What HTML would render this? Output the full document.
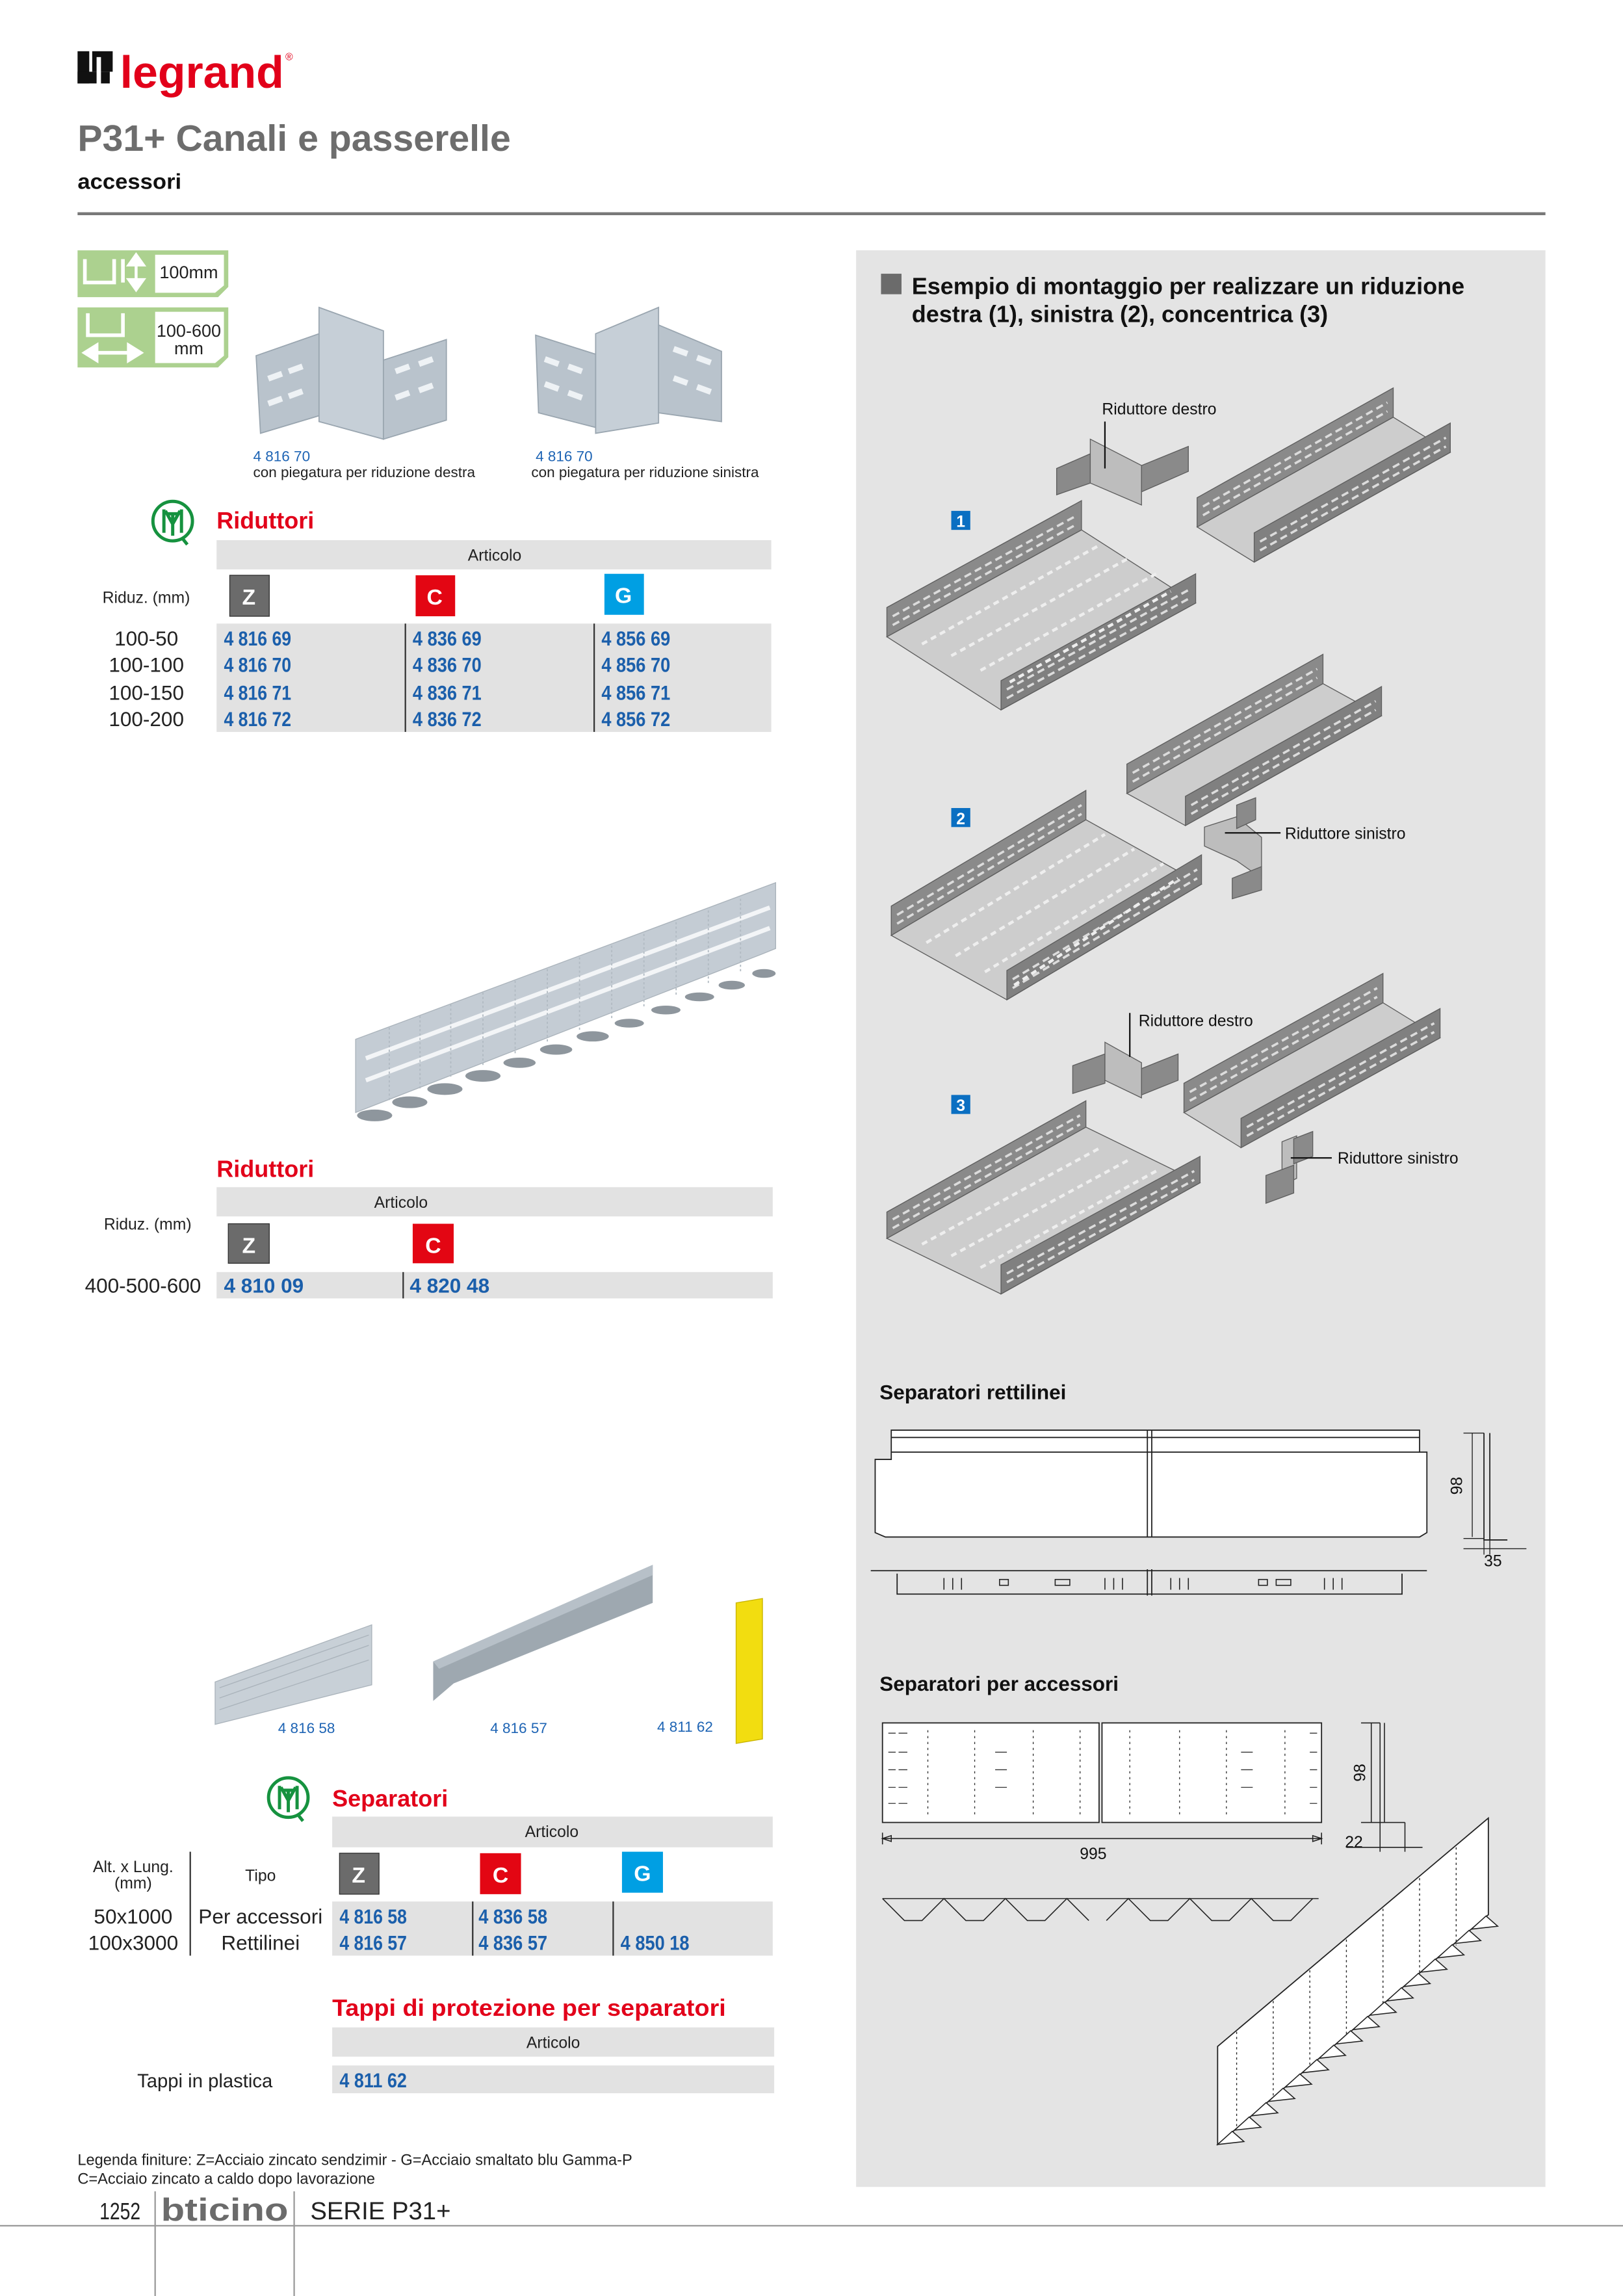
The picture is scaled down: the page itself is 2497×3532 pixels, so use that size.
<!DOCTYPE html>
<html><head><meta charset="utf-8"><style>html,body{margin:0;padding:0;background:#fff}svg{display:block}</style></head><body>
<svg xmlns="http://www.w3.org/2000/svg" width="2497" height="3532" viewBox="0 0 1109 1568.5" preserveAspectRatio="none" font-family="Liberation Sans, sans-serif">
<rect width="1109" height="1569" fill="#fff"/>
<!-- header -->
<rect x="53" y="35" width="8" height="22" fill="#111"/><rect x="53" y="49" width="22" height="8" fill="#111"/><rect x="63" y="35" width="14" height="14" fill="#111"/><rect x="66" y="39" width="3" height="20" fill="#fff"/>
<text x="82" y="60" font-size="31" font-weight="bold" fill="#e2001a" textLength="112" lengthAdjust="spacingAndGlyphs">legrand</text>
<text x="195" y="41" font-size="7" fill="#e2001a">®</text>
<text x="53" y="103" font-size="25" font-weight="bold" fill="#6d6d6d" textLength="296" lengthAdjust="spacingAndGlyphs">P31+  Canali e passerelle</text>
<text x="53" y="129" font-size="15" font-weight="bold" fill="#111" textLength="71" lengthAdjust="spacingAndGlyphs">accessori</text>
<rect x="53" y="145" width="1003" height="2" fill="#777"/>
<!-- right panel -->
<rect x="585" y="171" width="471" height="1323" fill="#e4e4e4"/>
<!-- green icons -->
<path d="M53 171 H156 V196 L149 203 H53 Z" fill="#acd18f"/><path d="M106 174 H153 V195 L147 200 H106 Z" fill="#fff"/>
<path d="M58 177 V193 H78 V177 M84 177 V193" stroke="#fff" stroke-width="2.5" fill="none"/><path d="M93 174 L88 181 H98 Z M93 198 L88 191 H98 Z M93 180 V192" stroke="#fff" fill="#fff" stroke-width="2"/>
<text x="109" y="190" font-size="12" fill="#222">100mm</text>
<path d="M53 210 H156 V244 L149 251 H53 Z" fill="#acd18f"/><path d="M106 213 H153 V243 L147 248 H106 Z" fill="#fff"/>
<path d="M60 214 V229 H84 V214" stroke="#fff" stroke-width="2.5" fill="none"/><path d="M62 241 H92 M58 241 L66 236 V246 Z M96 241 L88 236 V246 Z" stroke="#fff" fill="#fff" stroke-width="2.5"/>
<text x="129" y="230" font-size="12" fill="#222" text-anchor="middle">100-600</text><text x="129" y="242" font-size="12" fill="#222" text-anchor="middle">mm</text>
<!-- reducer photos -->
<g fill="#b9c3cc" stroke="#9aa6b0" stroke-width="0.8">
<path d="M175 243 L218 228 V284 L178 296 Z"/><path d="M218 210 L262 226 V300 L218 288 Z" fill="#c6cfd7"/><path d="M262 246 L305 232 V287 L262 300 Z"/>
<path d="M366 229 L407 242 V292 L368 282 Z"/><path d="M407 228 L450 210 V289 L407 296 Z" fill="#c6cfd7"/><path d="M450 222 L493 240 V288 L450 282 Z"/>
</g>
<g fill="#eef2f5"><rect x="183" y="255" width="10" height="4" transform="rotate(-20 188 257)"/><rect x="197" y="250" width="10" height="4" transform="rotate(-20 202 252)"/><rect x="183" y="272" width="10" height="4" transform="rotate(-20 188 274)"/><rect x="197" y="267" width="10" height="4" transform="rotate(-20 202 269)"/><rect x="270" y="250" width="10" height="4" transform="rotate(-20 275 252)"/><rect x="286" y="245" width="10" height="4" transform="rotate(-20 291 247)"/><rect x="270" y="268" width="10" height="4" transform="rotate(-20 275 270)"/><rect x="286" y="263" width="10" height="4" transform="rotate(-20 291 265)"/>
<rect x="372" y="245" width="10" height="4" transform="rotate(20 377 247)"/><rect x="388" y="250" width="10" height="4" transform="rotate(20 393 252)"/><rect x="372" y="262" width="10" height="4" transform="rotate(20 377 264)"/><rect x="388" y="268" width="10" height="4" transform="rotate(20 393 270)"/><rect x="460" y="238" width="10" height="4" transform="rotate(20 465 240)"/><rect x="476" y="244" width="10" height="4" transform="rotate(20 481 246)"/><rect x="460" y="258" width="10" height="4" transform="rotate(20 465 260)"/><rect x="476" y="264" width="10" height="4" transform="rotate(20 481 266)"/></g>
<text x="173" y="315" font-size="10" fill="#1e64b4">4 816 70</text><text x="173" y="326" font-size="10" fill="#222">con piegatura per riduzione destra</text>
<text x="366" y="315" font-size="10" fill="#1e64b4">4 816 70</text><text x="363" y="326" font-size="10" fill="#222">con piegatura per riduzione sinistra</text>
<!-- IMQ logo 1 -->
<g stroke="#16923f" fill="none" stroke-width="2.2"><circle cx="118" cy="356" r="13.5"/><path d="M112 348 V364 M124 348 V364 M113 349 L118 358 L123 349 M118 350 V366 M114 351 H122 M124 367 L128 372"/></g>
<text x="148" y="361" font-size="16" font-weight="bold" fill="#e2001a">Riduttori</text>
<rect x="148" y="369" width="379" height="20" fill="#e2e2e2"/><text x="338" y="383" font-size="11" fill="#222" text-anchor="middle">Articolo</text>
<text x="70" y="412" font-size="11" fill="#222">Riduz. (mm)</text>
<rect x="157" y="393" width="27" height="28" fill="#6b6b6b" stroke="#333" stroke-width="0.6"/><text x="170" y="413" font-size="15" font-weight="bold" fill="#fff" text-anchor="middle">Z</text>
<rect x="284" y="393" width="27" height="28" fill="#e30613"/><text x="297" y="413" font-size="15" font-weight="bold" fill="#fff" text-anchor="middle">C</text>
<rect x="413" y="392" width="27" height="28" fill="#009fe3"/><text x="426" y="412" font-size="15" font-weight="bold" fill="#fff" text-anchor="middle">G</text>
<rect x="148" y="426" width="379" height="74" fill="#e2e2e2"/><rect x="276.5" y="426" width="1" height="74" fill="#333"/><rect x="405.5" y="426" width="1" height="74" fill="#333"/>
<g font-size="14" fill="#222" text-anchor="middle"><text x="100" y="441">100-50</text><text x="100" y="459">100-100</text><text x="100" y="478">100-150</text><text x="100" y="496">100-200</text></g>
<g font-size="14" font-weight="bold" fill="#1b5fab"><text x="153" y="441" textLength="46" lengthAdjust="spacingAndGlyphs">4 816 69</text><text x="153" y="459" textLength="46" lengthAdjust="spacingAndGlyphs">4 816 70</text><text x="153" y="478" textLength="46" lengthAdjust="spacingAndGlyphs">4 816 71</text><text x="153" y="496" textLength="46" lengthAdjust="spacingAndGlyphs">4 816 72</text>
<text x="282" y="441" textLength="47" lengthAdjust="spacingAndGlyphs">4 836 69</text><text x="282" y="459" textLength="47" lengthAdjust="spacingAndGlyphs">4 836 70</text><text x="282" y="478" textLength="47" lengthAdjust="spacingAndGlyphs">4 836 71</text><text x="282" y="496" textLength="47" lengthAdjust="spacingAndGlyphs">4 836 72</text>
<text x="411" y="441" textLength="47" lengthAdjust="spacingAndGlyphs">4 856 69</text><text x="411" y="459" textLength="47" lengthAdjust="spacingAndGlyphs">4 856 70</text><text x="411" y="478" textLength="47" lengthAdjust="spacingAndGlyphs">4 856 71</text><text x="411" y="496" textLength="47" lengthAdjust="spacingAndGlyphs">4 856 72</text></g>
<!-- long reducer photo -->
<path d="M243 710 L530 603 V648 L520 652 L243 760 Z" fill="#c4ccd4" stroke="#aab3bb" stroke-width="0.6"/>
<g stroke="#f3f5f7" stroke-width="3"><path d="M250 723 L526 620"/><path d="M250 738 L526 634"/></g>
<g stroke="#b1bac2" stroke-width="0.8" stroke-dasharray="1.5 1.5"><path d="M266 702 V752 M287 694 V745 M308 686 V737 M330 678 V729 M352 670 V721 M374 662 V713 M396 654 V705 M418 646 V697 M440 638 V689 M462 630 V681 M484 622 V673 M506 614 V665"/></g>
<g fill="#8e969d"><ellipse cx="256" cy="762" rx="12" ry="4"/><ellipse cx="280" cy="753" rx="12" ry="4"/><ellipse cx="304" cy="744" rx="12" ry="4"/><ellipse cx="330" cy="735" rx="12" ry="4"/><ellipse cx="355" cy="726" rx="11" ry="3.5"/><ellipse cx="380" cy="717" rx="11" ry="3.5"/><ellipse cx="405" cy="708" rx="11" ry="3.5"/><ellipse cx="430" cy="699" rx="10" ry="3"/><ellipse cx="455" cy="690" rx="10" ry="3"/><ellipse cx="478" cy="681" rx="10" ry="3"/><ellipse cx="500" cy="673" rx="9" ry="3"/><ellipse cx="522" cy="665" rx="8" ry="3"/></g>
<!-- Riduttori 2 -->
<text x="148" y="804" font-size="16" font-weight="bold" fill="#e2001a">Riduttori</text>
<rect x="148" y="811" width="380" height="20" fill="#e2e2e2"/><text x="274" y="825" font-size="11" fill="#222" text-anchor="middle">Articolo</text>
<text x="71" y="840" font-size="11" fill="#222">Riduz. (mm)</text>
<rect x="156" y="836" width="28" height="27" fill="#6b6b6b" stroke="#333" stroke-width="0.6"/><text x="170" y="856" font-size="15" font-weight="bold" fill="#fff" text-anchor="middle">Z</text>
<rect x="282" y="836" width="28" height="27" fill="#e30613"/><text x="296" y="856" font-size="15" font-weight="bold" fill="#fff" text-anchor="middle">C</text>
<rect x="148" y="869" width="380" height="18" fill="#e2e2e2"/><rect x="275" y="869" width="1" height="18" fill="#333"/>
<text x="58" y="883" font-size="14" fill="#222">400-500-600</text>
<text x="153" y="883" font-size="14" font-weight="bold" fill="#1b5fab">4 810 09</text><text x="280" y="883" font-size="14" font-weight="bold" fill="#1b5fab">4 820 48</text>
<!-- separator photos -->
<path d="M147 1149 L254 1110 V1151 L147 1178 Z" fill="#c8d0d7" stroke="#aab3bb" stroke-width="0.6"/>
<g stroke="#aab3bb" stroke-width="0.6"><path d="M150 1160 L252 1124 M150 1168 L252 1134 M150 1153 L252 1117"/></g>
<path d="M296 1135 L446 1069 V1095 L310 1150 L296 1162 Z" fill="#9ea8b0"/><path d="M296 1135 L446 1069 L446 1076 L300 1140 Z" fill="#b7c0c8"/>
<path d="M503 1095 L521 1092 V1188 L503 1191 Z" fill="#f2dd10" stroke="#c9b400" stroke-width="0.6"/>
<g font-size="10" fill="#1e64b4"><text x="190" y="1184">4 816 58</text><text x="335" y="1184">4 816 57</text><text x="449" y="1183">4 811 62</text></g>
<!-- IMQ logo 2 -->
<g stroke="#16923f" fill="none" stroke-width="2.2"><circle cx="197" cy="1228" r="13.5"/><path d="M191 1220 V1236 M203 1220 V1236 M192 1221 L197 1230 L202 1221 M197 1222 V1238 M193 1223 H201 M203 1239 L207 1244"/></g>
<text x="227" y="1234" font-size="16" font-weight="bold" fill="#e2001a">Separatori</text>
<rect x="227" y="1241" width="301" height="21" fill="#e2e2e2"/><text x="377" y="1255" font-size="11" fill="#222" text-anchor="middle">Articolo</text>
<text x="91" y="1279" font-size="11" fill="#222" text-anchor="middle">Alt. x Lung.</text><text x="91" y="1290" font-size="11" fill="#222" text-anchor="middle">(mm)</text>
<text x="178" y="1285" font-size="11" fill="#222" text-anchor="middle">Tipo</text>
<rect x="129.5" y="1265" width="1" height="71" fill="#333"/>
<rect x="232" y="1266" width="27" height="28" fill="#6b6b6b" stroke="#333" stroke-width="0.6"/><text x="245" y="1286" font-size="15" font-weight="bold" fill="#fff" text-anchor="middle">Z</text>
<rect x="328" y="1266" width="28" height="28" fill="#e30613"/><text x="342" y="1286" font-size="15" font-weight="bold" fill="#fff" text-anchor="middle">C</text>
<rect x="425" y="1265" width="28" height="28" fill="#009fe3"/><text x="439" y="1285" font-size="15" font-weight="bold" fill="#fff" text-anchor="middle">G</text>
<rect x="227" y="1299" width="301" height="37" fill="#e2e2e2"/><rect x="322.5" y="1299" width="1" height="37" fill="#333"/><rect x="418.5" y="1299" width="1" height="37" fill="#333"/>
<g font-size="14" fill="#222" text-anchor="middle"><text x="91" y="1314">50x1000</text><text x="91" y="1332">100x3000</text><text x="178" y="1314">Per accessori</text><text x="178" y="1332">Rettilinei</text></g>
<g font-size="14" font-weight="bold" fill="#1b5fab"><text x="232" y="1314" textLength="46" lengthAdjust="spacingAndGlyphs">4 816 58</text><text x="232" y="1332" textLength="46" lengthAdjust="spacingAndGlyphs">4 816 57</text><text x="327" y="1314" textLength="47" lengthAdjust="spacingAndGlyphs">4 836 58</text><text x="327" y="1332" textLength="47" lengthAdjust="spacingAndGlyphs">4 836 57</text><text x="424" y="1332" textLength="47" lengthAdjust="spacingAndGlyphs">4 850 18</text></g>
<text x="227" y="1377" font-size="16" font-weight="bold" fill="#e2001a" textLength="269" lengthAdjust="spacingAndGlyphs">Tappi di protezione per separatori</text>
<rect x="227" y="1385" width="302" height="20" fill="#e2e2e2"/><text x="378" y="1399" font-size="11" fill="#222" text-anchor="middle">Articolo</text>
<rect x="227" y="1411" width="302" height="19" fill="#e2e2e2"/>
<text x="140" y="1426" font-size="13" fill="#222" text-anchor="middle">Tappi in plastica</text>
<text x="232" y="1426" font-size="14" font-weight="bold" fill="#1b5fab" textLength="46" lengthAdjust="spacingAndGlyphs">4 811 62</text>
<!-- legend/footer -->
<text x="53" y="1479" font-size="10.5" fill="#222">Legenda finiture: Z=Acciaio zincato sendzimir - G=Acciaio smaltato blu Gamma-P</text>
<text x="53" y="1492" font-size="10.5" fill="#222">C=Acciaio zincato a caldo dopo lavorazione</text>
<text x="68" y="1516" font-size="16" fill="#222" textLength="28" lengthAdjust="spacingAndGlyphs">1252</text>
<rect x="105.5" y="1497" width="1" height="72" fill="#999"/><rect x="200.5" y="1497" width="1" height="72" fill="#999"/><rect x="0" y="1520" width="1109" height="1" fill="#999"/>
<text x="110" y="1517" font-size="22" font-weight="bold" fill="#6b6b6b" textLength="87" lengthAdjust="spacingAndGlyphs">bticino</text>
<text x="212" y="1516" font-size="17" fill="#222" textLength="96" lengthAdjust="spacingAndGlyphs">SERIE P31+</text>
<!-- right panel content -->
<rect x="602" y="187" width="14" height="14" fill="#6b6b6b"/>
<text x="623" y="201" font-size="16" font-weight="bold" fill="#111">Esempio di montaggio per realizzare un riduzione</text>
<text x="623" y="220" font-size="16" font-weight="bold" fill="#111">destra (1), sinistra (2), concentrica (3)</text>
<!-- trays -->
<g stroke="#5e5e5e" stroke-width="0.6">
<path d="M606 435 L739 362 L817 412 L684 485 Z" fill="#cdcdcd"/>
<path d="M606 415 L739 342 V362 L606 435 Z" fill="#8a8a8a"/>
<path d="M684 465 L817 392 V412 L684 485 Z" fill="#808080"/>
<path d="M818 360 L952 285 L991 309 L857 384 Z" fill="#cdcdcd"/>
<path d="M818 340 L952 265 V285 L818 360 Z" fill="#8a8a8a"/>
<path d="M857 364 L991 289 V309 L857 384 Z" fill="#808080"/>
<path d="M609 639 L742 560 L821 604 L688 683 Z" fill="#cdcdcd"/>
<path d="M609 619 L742 540 V560 L609 639 Z" fill="#8a8a8a"/>
<path d="M688 663 L821 584 V604 L688 683 Z" fill="#808080"/>
<path d="M770 542 L904 467 L944 489 L810 564 Z" fill="#cdcdcd"/>
<path d="M770 522 L904 447 V467 L770 542 Z" fill="#8a8a8a"/>
<path d="M810 544 L944 469 V489 L810 564 Z" fill="#808080"/>
<path d="M606 846 L742 770 L820 808 L684 884 Z" fill="#cdcdcd"/>
<path d="M606 828 L742 752 V770 L606 846 Z" fill="#8a8a8a"/>
<path d="M684 864 L820 790 V808 L684 884 Z" fill="#808080"/>
<path d="M809 760 L945 685 L984 709 L848 784 Z" fill="#cdcdcd"/>
<path d="M809 740 L945 665 V685 L809 760 Z" fill="#8a8a8a"/>
<path d="M848 764 L984 689 V709 L848 784 Z" fill="#808080"/>
<path d="M722 320 L745 310 V330 L722 338 Z" fill="#8a8a8a"/><path d="M745 300 L780 318 V345 L745 330 Z" fill="#bdbdbd"/><path d="M780 318 L812 305 V322 L780 336 Z" fill="#8a8a8a"/>
<path d="M823 565 L845 558 L862 572 V600 L845 588 L823 578 Z" fill="#bdbdbd"/><path d="M845 550 L858 545 V560 L845 566 Z" fill="#8a8a8a"/><path d="M842 600 L862 592 V608 L842 614 Z" fill="#8a8a8a"/>
<path d="M733 728 L755 720 V740 L733 747 Z" fill="#8a8a8a"/><path d="M755 712 L780 726 V750 L755 738 Z" fill="#bdbdbd"/><path d="M780 730 L805 720 V738 L780 748 Z" fill="#8a8a8a"/>
<path d="M876 780 L886 776 V805 L876 810 Z" fill="#bdbdbd"/><path d="M884 778 L897 773 V790 L884 795 Z" fill="#8a8a8a"/><path d="M865 803 L884 796 V815 L865 822 Z" fill="#8a8a8a"/>
</g>
<g stroke="#dcdcdc" stroke-width="1.6" stroke-dasharray="5 3" fill="none">
<path d="M610 427 L736 358 M610 421 L736 352 M688 477 L814 408 M688 471 L814 402"/>
<path d="M822 352 L948 281 M822 346 L948 275 M861 376 L988 305 M861 370 L988 299"/>
<path d="M613 631 L739 556 M613 625 L739 550 M692 675 L818 600 M692 669 L818 594"/>
<path d="M774 534 L900 463 M774 528 L900 457 M814 556 L940 485 M814 550 L940 479"/>
<path d="M610 839 L738 768 M610 833 L738 762 M688 876 L816 806 M688 870 L816 800"/>
<path d="M813 752 L941 681 M813 746 L941 675 M852 776 L980 705 M852 770 L980 699"/>
</g>
<g stroke="#eeeeee" stroke-width="2" stroke-dasharray="4 3" fill="none">
<path d="M630 440 L752 372 M650 448 L770 382 M670 458 L790 392 M690 466 L800 404"/>
<path d="M633 644 L755 570 M653 653 L775 580 M673 664 L795 590 M693 673 L805 600"/>
<path d="M630 850 L752 784 M650 858 L772 792 M670 866 L790 800"/>
</g>
<g font-size="11" fill="#111"><text x="753" y="283">Riduttore destro</text><text x="878" y="573">Riduttore sinistro</text><text x="778" y="701">Riduttore destro</text><text x="914" y="795">Riduttore sinistro</text></g>
<g stroke="#111" stroke-width="1"><path d="M755 288 V320 M837 569 H875 M772 692 V722 M882 791 H910"/></g>
<g><rect x="650" y="349" width="13" height="13" fill="#0a6fc2"/><text x="656.5" y="360" font-size="11" font-weight="bold" fill="#fff" text-anchor="middle">1</text>
<rect x="650" y="552" width="13" height="13" fill="#0a6fc2"/><text x="656.5" y="563" font-size="11" font-weight="bold" fill="#fff" text-anchor="middle">2</text>
<rect x="650" y="748" width="13" height="13" fill="#0a6fc2"/><text x="656.5" y="759" font-size="11" font-weight="bold" fill="#fff" text-anchor="middle">3</text></g>
<!-- Separatori rettilinei -->
<text x="601" y="956" font-size="14" font-weight="bold" fill="#111">Separatori rettilinei</text>
<g stroke="#222" stroke-width="0.8" fill="#fff">
<path d="M609 977 H970 V992 H975 V1047 L970 1050 H605 L598 1047 V997 H609 Z"/>
<path d="M609 982 H970 M609 992 H970"/><path d="M784 977 V1050 M787 977 V1050" fill="none"/>
<path d="M595 1073 H975 M613 1075 V1089 H958 V1075" fill="none"/><path d="M784 1072 V1090 M787 1072 V1090" fill="none"/>
<path d="M1014 979 V1052 H1030 M1018 979 V1052" fill="none"/>
<path d="M1006 979 V1050 M1000 979 H1014 M1000 1051 H1014 M1000 1058 H1043 M1014 1052 V1062 M1018 1052 V1062" fill="none" stroke-width="0.6"/>
</g>
<g stroke="#222" stroke-width="0.7" fill="none"><path d="M645 1078 V1086 M651 1078 V1086 M657 1078 V1086 M755 1078 V1086 M761 1078 V1086 M767 1078 V1086 M800 1078 V1086 M806 1078 V1086 M812 1078 V1086 M905 1078 V1086 M911 1078 V1086 M917 1078 V1086"/><rect x="683" y="1079" width="6" height="4"/><rect x="721" y="1079" width="10" height="4"/><rect x="860" y="1079" width="6" height="4"/><rect x="872" y="1079" width="10" height="4"/></g>
<text transform="translate(999 1015) rotate(-90)" font-size="11" fill="#111" text-anchor="middle">98</text>
<text x="1014" y="1070" font-size="11" fill="#111">35</text>
<!-- Separatori per accessori -->
<text x="601" y="1155" font-size="14" font-weight="bold" fill="#111">Separatori per accessori</text>
<g stroke="#222" stroke-width="0.8" fill="#fff"><rect x="603" y="1177" width="148" height="68"/><rect x="753" y="1177" width="150" height="68"/></g>
<g stroke="#333" stroke-width="0.6" fill="none" stroke-dasharray="1.5 2.5"><path d="M634 1182 V1242 M666 1182 V1242 M706 1182 V1242 M738 1182 V1242 M772 1182 V1242 M806 1182 V1242 M838 1182 V1242 M878 1182 V1242"/></g>
<g stroke="#333" stroke-width="0.6" fill="none"><path d="M607 1184 h5 M614 1184 h6 M607 1197 h5 M614 1197 h6 M607 1209 h5 M614 1209 h6 M607 1221 h5 M614 1221 h6 M607 1232 h5 M614 1232 h6 M680 1197 h8 M680 1209 h8 M680 1221 h8 M848 1197 h8 M848 1209 h8 M848 1221 h8 M895 1184 h5 M895 1197 h5 M895 1209 h5 M895 1221 h5 M895 1232 h5"/></g>
<g stroke="#222" stroke-width="0.7" fill="none">
<path d="M603 1252 V1260 M903 1252 V1260 M603 1256 H903 M603 1256 l6 -2 v4 z M903 1256 l-6 -2 v4 z"/>
<path d="M603 1297 L618 1312 H630 L645 1297 L660 1312 H672 L687 1297 L702 1312 H714 L729 1297 L744 1312 M756 1312 L771 1297 L786 1312 H798 L813 1297 L828 1312 H840 L855 1297 L870 1312 H882 L897 1297"/><path d="M603 1297 H901"/>
<path d="M943 1177 V1245 H960 M946 1177 V1245"/><path d="M937 1177 V1245 M930 1177 H943 M930 1245 H943 M943 1245 V1265 M960 1245 V1265 M920 1262 H972"/>
</g>
<text x="747" y="1270" font-size="11" fill="#111" text-anchor="middle">995</text>
<text transform="translate(933 1211) rotate(-90)" font-size="11" fill="#111" text-anchor="middle">98</text>
<text x="919" y="1262" font-size="11" fill="#111">22</text>
<!-- perspective separator -->
<path d="M832 1398 L1017 1242 V1308 L832 1465 Z" fill="#fff" stroke="#222" stroke-width="0.8"/>
<g stroke="#222" stroke-width="0.6" stroke-dasharray="1.5 2" fill="none"><path d="M845 1388 V1455 M870 1367 V1434 M895 1346 V1413 M920 1325 V1392 M945 1304 V1371 M970 1283 V1350 M995 1262 V1329"/></g>
<g stroke="#222" stroke-width="0.7" fill="#fff"><path d="M832 1465 l18 -2 l-8 -7 Z M843.6 1455.2 l18 -2 l-8 -7 Z M855.1 1445.4 l18 -2 l-8 -7 Z M866.7 1435.6 l18 -2 l-8 -7 Z M878.2 1425.8 l18 -2 l-8 -7 Z M889.8 1416 l18 -2 l-8 -7 Z M901.4 1406.1 l18 -2 l-8 -7 Z M912.9 1396.3 l18 -2 l-8 -7 Z M924.5 1386.5 l18 -2 l-8 -7 Z M936 1376.7 l18 -2 l-8 -7 Z M947.6 1366.9 l18 -2 l-8 -7 Z M959.2 1357.1 l18 -2 l-8 -7 Z M970.7 1347.3 l18 -2 l-8 -7 Z M982.3 1337.5 l18 -2 l-8 -7 Z M993.8 1327.7 l18 -2 l-8 -7 Z M1005.4 1317.9 l18 -2 l-8 -7 Z"/></g>
</svg>
</body></html>
